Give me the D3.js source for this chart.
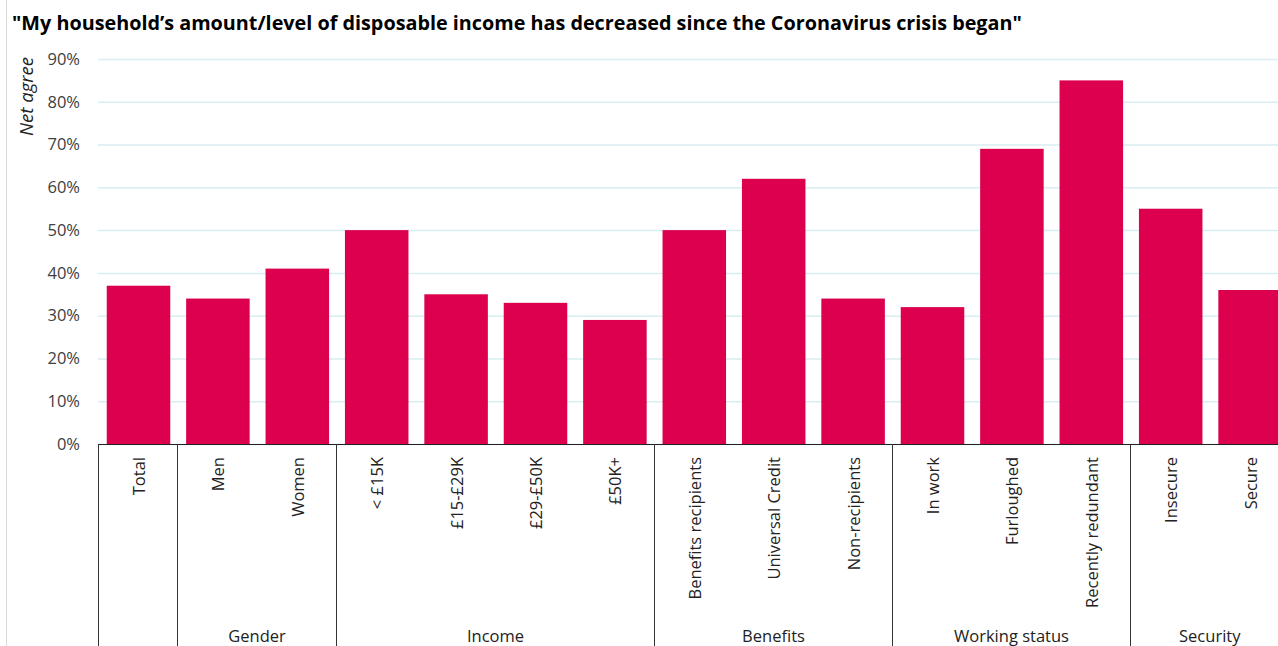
<!DOCTYPE html>
<html>
<head>
<meta charset="utf-8">
<script src="https://cdn.jsdelivr.net/npm/d3@7/dist/d3.min.js"></script>
<style>
  html, body { margin: 0; padding: 0; background: #fff; }
  svg { display: block; }
  text { font-family: "Open Sans", "Noto Sans", sans-serif; }
</style>
</head>
<body>
<svg id="chart" width="1278" height="646"></svg>
<script>
// Net agree shares by respondent group
const categories = ["Total", "Men", "Women", "< £15K", "£15-£29K", "£29-£50K", "£50K+",
  "Benefits recipients", "Universal Credit", "Non-recipients",
  "In work", "Furloughed", "Recently redundant", "Insecure", "Secure"];
const values = [0.37, 0.34, 0.41, 0.50, 0.35, 0.33, 0.29, 0.50, 0.62, 0.34, 0.32, 0.69, 0.85, 0.55, 0.36];
const groupNames = ["", "Gender", "Income", "Benefits", "Working status", "Security"];
const groupSizes = [1, 2, 4, 3, 3, 2];
const yTicks = [0, 0.1, 0.2, 0.3, 0.4, 0.5, 0.6, 0.7, 0.8, 0.9];
const titleText = "\"My household\u2019s amount/level of disposable income has decreased since the Coronavirus crisis began\"";
const yTitle = "Net agree";

const svg = d3.select("#chart");
const W = 1278, H = 646;
const left = 98, step = 79.4, baseY = 444, topY = 59;

const x = d3.scaleBand()
  .domain(categories)
  .range([left, left + categories.length * step])
  .paddingInner(0.2)
  .paddingOuter(0.1);
const y = d3.scaleLinear().domain([0, 0.9]).range([baseY, topY]);

// faint frame edge on the left
svg.append("line")
  .attr("x1", 6.5).attr("x2", 6.5).attr("y1", 0).attr("y2", H)
  .attr("stroke", "#d9d9d9").attr("stroke-width", 1);

// title
svg.append("text")
  .attr("x", 12).attr("y", 30)
  .attr("font-size", 19.8).attr("font-weight", 700).attr("fill", "#000")
  .text(titleText);

// y axis: gridlines + percent labels
const yAxis = d3.axisLeft(y)
  .tickValues(yTicks)
  .tickFormat(d3.format(".0%"))
  .tickSize(-(W - left))
  .tickPadding(18);
const gy = svg.append("g").attr("transform", `translate(${left},0)`).call(yAxis);
gy.select(".domain").remove();
gy.selectAll(".tick line").attr("stroke", "#d8eef0").attr("stroke-width", 1.5);
gy.selectAll(".tick text")
  .attr("font-size", 16.5).attr("fill", "#404040")
  .attr("font-family", "'Open Sans', 'Noto Sans', sans-serif");

// y axis title
svg.append("text")
  .attr("transform", `translate(33,${topY - 2}) rotate(-90)`)
  .attr("text-anchor", "end")
  .attr("font-size", 18.5).attr("font-style", "italic").attr("fill", "#222")
  .text(yTitle);

// bars
svg.append("g").selectAll("rect")
  .data(categories)
  .join("rect")
  .attr("x", d => x(d) + 0.8)
  .attr("width", x.bandwidth())
  .attr("y", (d, i) => y(values[i]))
  .attr("height", (d, i) => y(0) - y(values[i]))
  .attr("fill", "#dc004e");

// baseline
svg.append("line")
  .attr("x1", left).attr("x2", W).attr("y1", baseY + 0.5).attr("y2", baseY + 0.5)
  .attr("stroke", "#222").attr("stroke-width", 1);

// category labels, rotated
svg.append("g").selectAll("text")
  .data(categories)
  .join("text")
  .attr("transform", d => `translate(${x(d) + x.bandwidth() / 2 + 1.5},${baseY + 13}) rotate(-90)`)
  .attr("text-anchor", "end")
  .attr("dy", "0.35em")
  .attr("font-size", 16.5).attr("fill", "#222")
  .text(d => d);

// group separators and group names
let idx = 0;
const bounds = [0];
groupSizes.forEach(s => { idx += s; bounds.push(idx); });
const edgeX = i => Math.round(x(categories[Math.min(i, categories.length - 1)]) - x.step() * x.paddingInner() / 2) + 0.5;
const boundaryX = i => i < categories.length ? edgeX(i) : left + categories.length * step;

svg.append("g").selectAll("line")
  .data(bounds.slice(0, -1))
  .join("line")
  .attr("x1", i => boundaryX(i)).attr("x2", i => boundaryX(i))
  .attr("y1", baseY).attr("y2", H)
  .attr("stroke", "#333").attr("stroke-width", 1);

svg.append("g").selectAll("text")
  .data(groupNames)
  .join("text")
  .attr("x", (g, i) => (boundaryX(bounds[i]) + boundaryX(bounds[i + 1])) / 2)
  .attr("y", 642)
  .attr("text-anchor", "middle")
  .attr("font-size", 16.5).attr("fill", "#222")
  .text(g => g);
</script>
</body>
</html>
